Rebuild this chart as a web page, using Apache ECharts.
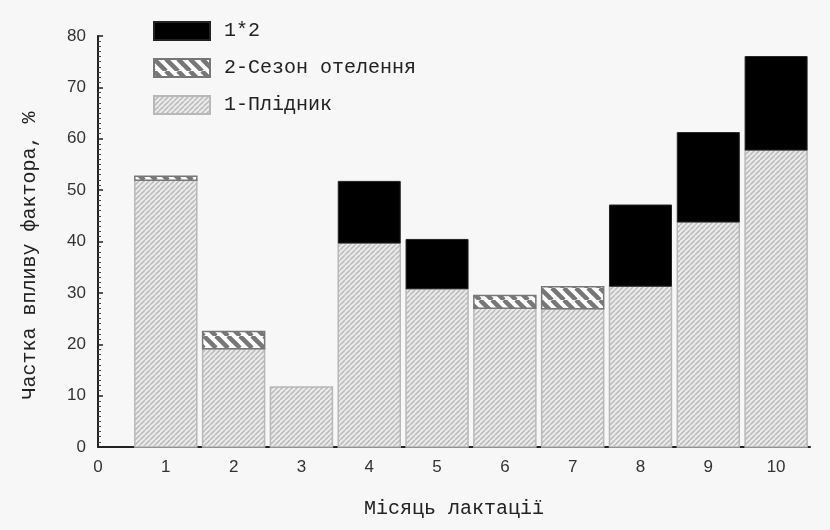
<!DOCTYPE html>
<html>
<head>
<meta charset="utf-8">
<script src="https://cdn.jsdelivr.net/npm/echarts@6/dist/echarts.min.js"></script>
<style>
html,body{margin:0;padding:0;background:#f7f7f7;}
#chart{width:830px;height:530px;}
</style>
</head>
<body>
<div id="chart"></div>
<script>
var months = [1, 2, 3, 4, 5, 6, 7, 8, 9, 10];
var sireValues = [51.9, 19.1, 11.7, 39.7, 30.8, 27.0, 26.9, 31.3, 43.8, 57.8];
var seasonValues = [0.8, 3.4, 0, 0, 0, 2.5, 4.3, 0, 0, 0];
var interactionValues = [0, 0, 0, 12.0, 9.6, 0, 0, 15.8, 17.4, 18.2];
var yTicks = [0, 10, 20, 30, 40, 50, 60, 70, 80];
var seriesNames = ['1*2', '2-Сезон отелення', '1-Плідник'];

function makePattern(size, bg, fg, lw, dir) {
  var c = document.createElement('canvas');
  c.width = size; c.height = size;
  var g = c.getContext('2d');
  g.fillStyle = bg; g.fillRect(0, 0, size, size);
  g.strokeStyle = fg; g.lineWidth = lw;
  g.beginPath();
  for (var k = -1; k <= 1; k++) {
    if (dir === 'up') { g.moveTo(k * size, size); g.lineTo(k * size + size, 0); }
    else { g.moveTo(k * size, 0); g.lineTo(k * size + size, size); }
  }
  g.stroke();
  return { image: c, repeat: 'repeat' };
}

var sirePattern = makePattern(5, '#ececec', '#bdbdbd', 1.6, 'up');
var seasonPattern = makePattern(12, '#ffffff', '#777777', 4.5, 'down');

// stacked segments: [month, base, top]
function segments(vals, bases) {
  var out = [];
  months.forEach(function (m, i) {
    var b = bases ? bases[i] : 0;
    if (vals[i] > 0) out.push([m, b, b + vals[i]]);
  });
  return out;
}
var seasonBase = sireValues.slice();
var interBase = sireValues.map(function (v, i) { return v + seasonValues[i]; });

function barRenderer(fill, stroke, lw) {
  return function (params, api) {
    var p0 = api.coord([api.value(0), api.value(1)]);
    var p1 = api.coord([api.value(0), api.value(2)]);
    var w = 62;
    return {
      type: 'rect',
      shape: { x: p0[0] - w / 2, y: p1[1], width: w, height: p0[1] - p1[1] },
      style: { fill: fill, stroke: stroke, lineWidth: lw }
    };
  };
}

var textFont = "'Liberation Mono', 'DejaVu Sans Mono', monospace";
var numFont = "'Liberation Sans Narrow', 'Liberation Sans', sans-serif";

var chart = echarts.init(document.getElementById('chart'));
chart.setOption({
  backgroundColor: '#f7f7f7',
  animation: false,
  legend: {
    orient: 'vertical',
    left: 148,
    top: 16,
    itemWidth: 56,
    itemHeight: 18,
    itemGap: 17,
    icon: 'rect',
    data: seriesNames,
    textStyle: { fontFamily: textFont, fontSize: 20, color: '#222', padding: [0, 0, 0, 9] }
  },
  grid: { left: 98, right: 20, top: 36, bottom: 83 },
  xAxis: {
    type: 'value',
    min: 0,
    max: 10.5,
    interval: 1,
    name: 'Місяць лактації',
    nameLocation: 'middle',
    nameGap: 52,
    nameTextStyle: { fontFamily: textFont, fontSize: 20, color: '#222' },
    axisLine: { show: true, onZero: false, lineStyle: { color: '#222', width: 2 } },
    axisTick: { show: true, inside: true, length: 4, lineStyle: { color: '#222', width: 2 } },
    axisLabel: { fontFamily: numFont, fontSize: 17, color: '#333', margin: 12, showMaxLabel: false },
    splitLine: { show: false }
  },
  yAxis: {
    type: 'value',
    min: 0,
    max: 80,
    interval: 10,
    name: 'Частка впливу фактора, %',
    nameLocation: 'middle',
    nameGap: 58,
    nameTextStyle: { fontFamily: textFont, fontSize: 20, color: '#222', padding: [0, 28, 0, 0] },
    axisLine: { show: true, lineStyle: { color: '#222', width: 2 } },
    axisTick: { show: true, inside: true, length: 5, lineStyle: { color: '#222', width: 1.5 } },
    minorTick: { show: true, splitNumber: 10, length: 3, lineStyle: { color: '#444', width: 1 } },
    axisLabel: {
      fontFamily: numFont, fontSize: 17, color: '#333', margin: 12,
      formatter: function (v) { return yTicks.indexOf(v) >= 0 ? String(v) : ''; }
    },
    splitLine: { show: false }
  },
  series: [
    {
      name: '1-Плідник', type: 'custom',
      data: segments(sireValues, null),
      encode: { x: 0, y: [1, 2] },
      itemStyle: { color: sirePattern, borderColor: '#b8b8b8', borderWidth: 1.5 },
      renderItem: barRenderer(sirePattern, '#b8b8b8', 1.5)
    },
    {
      name: '2-Сезон отелення', type: 'custom',
      data: segments(seasonValues, seasonBase),
      encode: { x: 0, y: [1, 2] },
      itemStyle: { color: seasonPattern, borderColor: '#777777', borderWidth: 1.5 },
      renderItem: barRenderer(seasonPattern, '#777777', 1.5)
    },
    {
      name: '1*2', type: 'custom',
      data: segments(interactionValues, interBase),
      encode: { x: 0, y: [1, 2] },
      itemStyle: { color: '#000000', borderColor: '#222', borderWidth: 1 },
      renderItem: barRenderer('#000000', '#222222', 1)
    }
  ]
});
</script>
</body>
</html>
